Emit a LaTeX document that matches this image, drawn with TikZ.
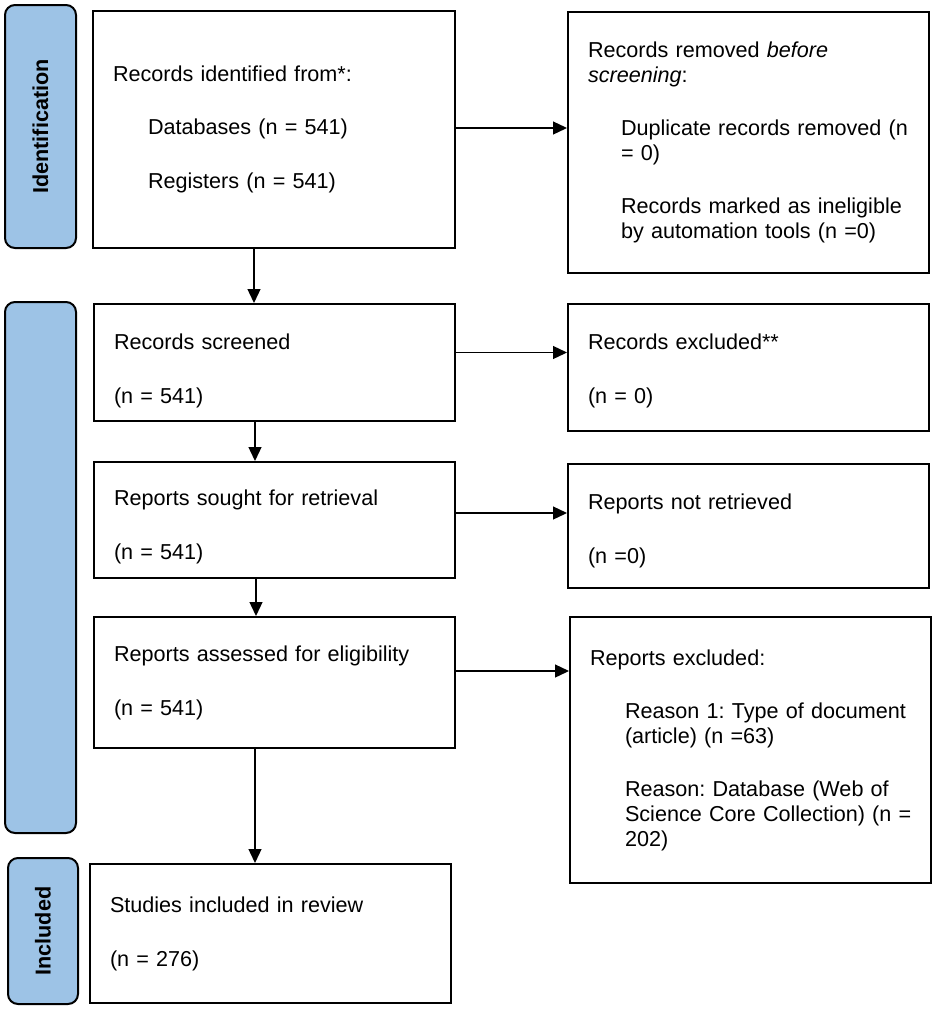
\documentclass[tikz,border=0pt]{standalone}
\usepackage{fontspec}
\setmainfont{Liberation Sans}
\usetikzlibrary{arrows.meta,calc}
\definecolor{phaseblue}{HTML}{9DC3E6}
\frenchspacing
\newcommand\toppad[1]{\rule{0pt}{\dimexpr 16pt+#1\relax}}
\begin{document}
\begin{tikzpicture}[x=1pt,y=-1pt,
  every node/.style={font=\fontsize{21.6}{25}\selectfont\frenchspacing},
  box/.style={draw=black, line width=2pt, fill=white, anchor=north west,
    inner xsep=20pt, inner ysep=0pt, align=left,
    text width=#1-40pt, minimum width=#1},
  box/.default=361pt,
  phase/.style={draw=black, line width=2pt, fill=phaseblue, rounded corners=10pt,
    rotate=90, inner sep=0pt, font=\fontsize{21.6}{25}\selectfont\bfseries},
  arr/.style={line width=1.3pt, -{Triangle[length=14pt,width=13pt]}}
]
\useasboundingbox[fill=white] (0,0) rectangle (935,1010);

% phase boxes
\node[phase, minimum width=243pt, minimum height=71pt] (ph1) at (40.5,126.5) {Identification};
\node[phase, minimum width=531pt, minimum height=71pt] (ph2) at (40.5,567.5) {};
\node[phase, minimum width=146pt, minimum height=70pt] (ph3) at (43,931) {Included};

% main column
\node[box=362pt, minimum height=237pt] (A) at (92,10)
  {Records identified from*:\\[28pt]
   \hspace*{35pt}Databases (n = 541)\\[29pt]
   \hspace*{35pt}Registers (n = 541)};
\node[box, minimum height=117pt] (C) at (93,303)
  {\toppad{16pt}Records screened\\[29pt](n = 541)};
\node[box, minimum height=116pt] (E) at (93,461)
  {\toppad{14pt}Reports sought for retrieval\\[29pt](n = 541)};
\node[box, minimum height=131pt] (G) at (93,616)
  {Reports assessed for eligibility\\[29pt](n = 541)};
\node[box, minimum height=139pt, inner xsep=19pt] (I) at (89,863)
  {Studies included in review\\[29pt](n = 276)};

% right column
\node[box, minimum height=261pt] (B) at (567,11)
  {Records removed \textit{before}\\
   \textit{screening}:\\[28pt]
   \hspace*{33pt}\mbox{Duplicate records removed (n}\\
   \hspace*{33pt}= 0)\\[28pt]
   \hspace*{33pt}\mbox{Records marked as ineligible}\\
   \hspace*{33pt}\mbox{by automation tools (n =0)}};
\node[box, minimum height=127pt] (D) at (567,303)
  {\toppad{6pt}Records excluded**\\[29pt](n = 0)};
\node[box, minimum height=124pt] (F) at (567,463)
  {\toppad{10pt}Reports not retrieved\\[29pt](n =0)};
\node[box, minimum height=266pt, inner xsep=19pt] (H) at (569,616)
  {Reports excluded:\\[28pt]
   \hspace*{35pt}\mbox{Reason 1: Type of document}\\
   \hspace*{35pt}(article) (n =63)\\[28pt]
   \hspace*{35pt}\mbox{Reason: Database (Web of}\\
   \hspace*{35pt}\mbox{Science Core Collection) (n =}\\
   \hspace*{35pt}202)};

% horizontal arrows
\draw[arr] ([yshift=1.5pt]A.east) -- ([yshift=1.5pt]A.east -| B.west);
\draw[arr] ([yshift=10pt]C.east) -- ([yshift=10pt]C.east -| D.west);
\draw[arr] ([yshift=7pt]E.east) -- ([yshift=7pt]E.east -| F.west);
\draw[arr] ([yshift=11.5pt]G.east) -- ([yshift=11.5pt]G.east -| H.west);

% vertical arrows
\draw[arr] ([xshift=-20pt]A.south) -- ([xshift=-20pt]A.south |- C.north);
\draw[arr] ([xshift=-19.5pt]C.south) -- ([xshift=-19.5pt]C.south |- E.north);
\draw[arr] ([xshift=-18.5pt]E.south) -- ([xshift=-18.5pt]E.south |- G.north);
\draw[arr] ([xshift=-19.5pt]G.south) -- ([xshift=-19.5pt]G.south |- I.north);
\end{tikzpicture}
\end{document}
